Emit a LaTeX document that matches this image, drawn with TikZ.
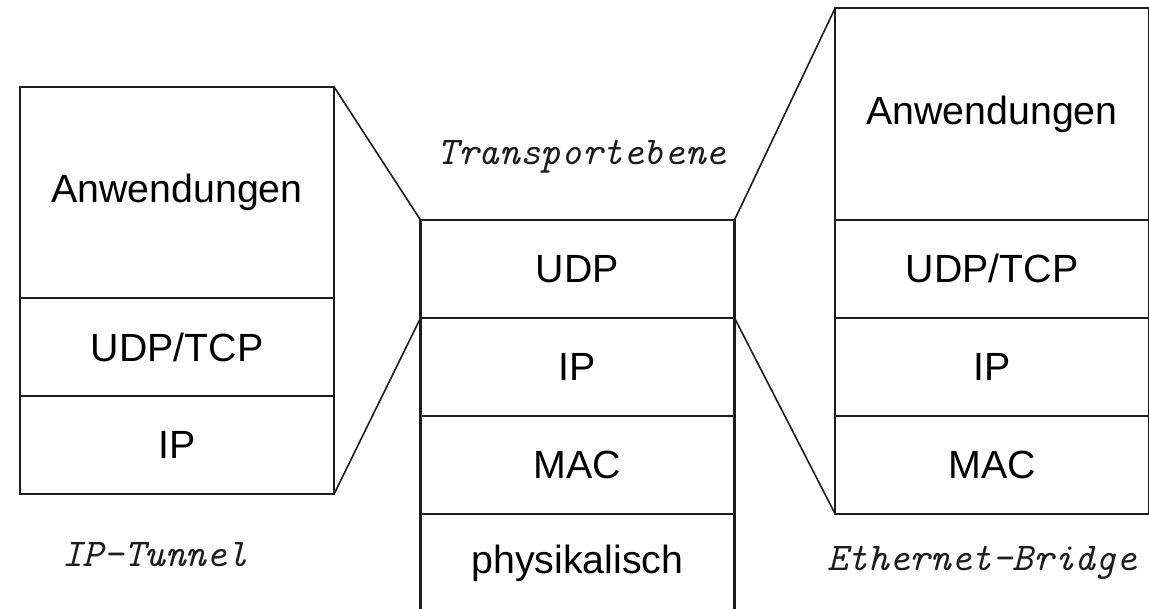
\documentclass[tikz,border=0pt]{standalone}
\usepackage{fontspec}
\newfontfamily\cellfont{Liberation Sans}
\usetikzlibrary{positioning}

\begin{document}
\begin{tikzpicture}[x=0.75pt,y=0.75pt,
  layer/.style={draw=ink,line width=1.6pt,outer sep=0pt,minimum width=235.5pt,
    minimum height=73.5pt,inner sep=0pt,font=\cellfont\fontsize{29.5}{33}\selectfont},
  applayer/.style={layer,minimum height=158.5pt},
  note/.style={font=\ttfamily\itshape\fontsize{29.5}{33}\selectfont,text=ink},
  link/.style={draw=ink,line width=1.2pt}]
\definecolor{ink}{HTML}{1C1C1C}
\useasboundingbox (0,0) rectangle (1149,609);
\node[applayer] (lapp) at (177,416.5) {Anwendungen};
\node[layer,below=0pt of lapp] (ludp) {UDP/TCP};
\node[layer,below=0pt of ludp] (lip) {IP};
\node[layer] (mudp) at (577.5,340) {UDP};
\node[layer,below=0pt of mudp] (mip) {IP};
\node[layer,below=0pt of mip] (mmac) {MAC};
\node[layer,below=0pt of mmac] (mphy) {physikalisch};
\node[applayer] (rapp) at (992,495) {Anwendungen};
\node[layer,below=0pt of rapp] (rudp) {UDP/TCP};
\node[layer,below=0pt of rudp] (rip) {IP};
\node[layer,below=0pt of rip] (rmac) {MAC};
\draw[link] (lapp.north east) -- (mudp.north west);
\draw[link] (lip.south east) -- (mip.north west);
\draw[link] (mudp.north east) -- (rapp.north west);
\draw[link] (mip.north east) -- (rmac.south west);
\node[note] (transport) at (582,452) {Transportebene};
\node[note] (tunnel) at (155,54) {IP-Tunnel};
\node[note] (bridge) at (982,46) {Ethernet-Bridge};
\end{tikzpicture}
\end{document}
